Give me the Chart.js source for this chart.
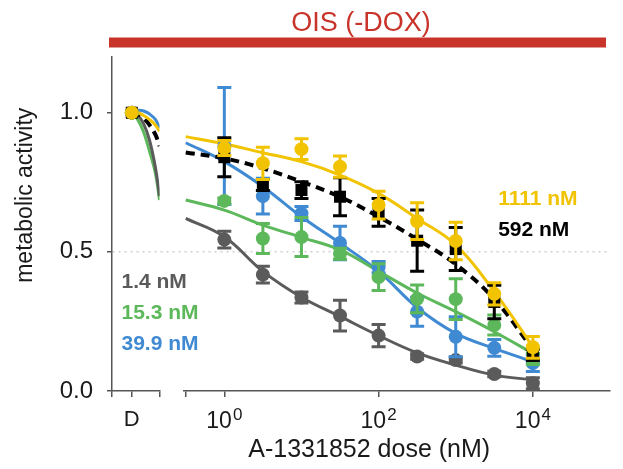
<!DOCTYPE html>
<html>
<head>
<meta charset="utf-8">
<script src="https://cdn.jsdelivr.net/npm/chart.js@4.4.1/dist/chart.umd.min.js"></script>
<style>
  html, body { margin: 0; padding: 0; background: #fff; }
</style>
</head>
<body>
<canvas id="myChart" width="623" height="469"></canvas>
<script>
// doses (nM) of the measured points and of the fitted curves
const doses = [1, 3.16, 10, 31.6, 100, 316, 1000, 3162, 10000];
const curveDoses = [0.316, 1, 3.16, 10, 31.6, 100, 316, 1000, 3162, 10000];
// position along the short "D" (DMSO) segment
const nearD = [0, 0.3, 0.6, 0.9, 1.2, 1.4];
const dmsoValue = 1.0;

// measured means and error bars
const yellowMean = [0.873, 0.818, 0.869, 0.806, 0.668, 0.61, 0.539, 0.349, 0.157];
const yellowErr = [0.027, 0.058, 0.037, 0.038, 0.05, 0.066, 0.067, 0.04, 0.039];
const blackMean = [0.84, 0.74, 0.722, 0.698, 0.642, 0.54, 0.51, 0.32, 0.13];
const blackErr = [0.07, 0.02, 0.03, 0.068, 0.05, 0.11, 0.077, 0.06, 0.02];
const greenMean = [0.683, 0.548, 0.553, 0.493, 0.409, 0.331, 0.33, 0.237, 0.115];
const greenErr = [0.01, 0.054, 0.07, 0.02, 0.048, 0.05, 0.073, 0.036, 0.02];
const blueMean = [0.88, 0.70, 0.638, 0.532, 0.445, 0.285, 0.195, 0.155, 0.1];
const blueErr = [0.21, 0.064, 0.025, 0.06, 0.02, 0.052, 0.072, 0.03, 0.03];
const grayMean = [0.544, 0.418, 0.336, 0.271, 0.199, 0.124, 0.111, 0.061, 0.028];
const grayErr = [0.03, 0.03, 0.02, 0.055, 0.04, 0.01, 0.01, 0.01, 0.02];

// fitted curves
const yellowFit = [0.914, 0.888, 0.856, 0.824, 0.776, 0.71, 0.62, 0.525, 0.357, 0.159];
const blackFit = [0.857, 0.836, 0.80, 0.752, 0.698, 0.626, 0.545, 0.455, 0.33, 0.15];
const greenFit = [0.686, 0.65, 0.596, 0.552, 0.507, 0.43, 0.352, 0.285, 0.213, 0.135];
const blueFit = [0.892, 0.824, 0.734, 0.626, 0.531, 0.43, 0.30, 0.207, 0.153, 0.105];
const grayFit = [0.62, 0.554, 0.43, 0.337, 0.268, 0.199, 0.137, 0.093, 0.057, 0.04];

// curve pieces next to D
const yellowNearD = [1.0, 1.0, 0.99, 0.975, 0.955, 0.933];
const blackNearD = [1.0, 0.995, 0.98, 0.955, 0.92, 0.88];
const greenNearD = [1.0, 0.975, 0.93, 0.86, 0.78, 0.686];
const blueNearD = [1.0, 1.008, 1.006, 0.995, 0.975, 0.945];
const grayNearD = [1.0, 0.99, 0.96, 0.9, 0.8, 0.70];

const seriesLabels = ['1111 nM', '592 nM', '15.3 nM', '39.9 nM', '1.4 nM'];
const logTicks = [1, 100, 10000];
const yTicks = [0, 0.5, 1.0];

const YELLOW = '#f2c300';
const BLACK = '#000000';
const GREEN = '#5cb85a';
const BLUE = '#3f8ad2';
const GRAY = '#5b5b5b';
const RED = '#c8342a';
const AXIS = '#555555';
const FONT = "'Liberation Sans', Arial, Helvetica, sans-serif";
const BOTTOM_H = 78;

Chart.defaults.font.family = FONT;
Chart.defaults.color = '#1a1a1a';

const pts = (xs, ys) => xs.map((x, i) => ({x: x, y: ys[i]}));

function pointSet(label, color, means, errs, style, order) {
    return {
        label: label,
        data: pts(doses, means),
        errors: errs,
        xAxisID: 'x',
        yAxisID: 'y',
        backgroundColor: color,
        borderColor: color,
        borderWidth: 0,
        pointStyle: style,
        pointRadius: style === 'rect' ? 8.5 : 7,
        showLine: false,
        order: order
    };
}

function dmsoSet(color, style, order) {
    return {
        data: [{x: 0, y: dmsoValue}],
        xAxisID: 'xd',
        yAxisID: 'y',
        backgroundColor: color,
        borderWidth: 0,
        pointStyle: style,
        pointRadius: style === 'rect' ? 8.5 : 7,
        showLine: false,
        order: order
    };
}

function curveSet(color, xs, ys, axis, order, dashed) {
    return {
        data: pts(xs, ys),
        xAxisID: axis,
        yAxisID: 'y',
        showLine: true,
        borderColor: color,
        borderWidth: dashed ? 4 : 3,
        borderDash: dashed ? [9, 6] : [],
        pointRadius: 0,
        tension: 0.4,
        order: order
    };
}

// error bars drawn through the y scale
const errorBarPlugin = {
    id: 'errorBars',
    afterDatasetDraw(chart, args) {
        const ds = chart.data.datasets[args.index];
        if (!ds.errors) return;
        const yScale = chart.scales.y;
        const ctx = chart.ctx;
        ctx.save();
        ctx.strokeStyle = ds.backgroundColor;
        ctx.lineWidth = 3;
        args.meta.data.forEach((pt, i) => {
            const v = ds.data[i].y;
            const e = ds.errors[i];
            const top = yScale.getPixelForValue(v + e);
            const bot = yScale.getPixelForValue(v - e);
            ctx.beginPath();
            ctx.moveTo(pt.x, top);
            ctx.lineTo(pt.x, bot);
            ctx.moveTo(pt.x - 7, top);
            ctx.lineTo(pt.x + 7, top);
            ctx.moveTo(pt.x - 7, bot);
            ctx.lineTo(pt.x + 7, bot);
            ctx.stroke();
        });
        ctx.restore();
    }
};

// red condition bar, 10^n tick labels and the IC50 labels
const decorPlugin = {
    id: 'decor',
    beforeDraw(chart) {
        const {ctx, chartArea} = chart;
        ctx.save();
        ctx.fillStyle = RED;
        ctx.fillRect(chartArea.left - 3, chartArea.top - 19.5, chartArea.width - 1, 10);
        ctx.restore();
    },
    afterDraw(chart) {
        const {ctx, chartArea} = chart;
        const xs = chart.scales.x;
        const xd = chart.scales.xd;
        const ys = chart.scales.y;
        ctx.save();
        ctx.fillStyle = '#1a1a1a';
        ctx.textBaseline = 'alphabetic';
        ctx.textAlign = 'left';
        logTicks.forEach(v => {
            const px = xs.getPixelForValue(v);
            const exp = String(Math.round(Math.log10(v)));
            ctx.font = '23px ' + FONT;
            const w1 = ctx.measureText('10').width;
            ctx.font = '17px ' + FONT;
            const w2 = ctx.measureText(exp).width;
            const start = px - (w1 + w2 + 1) / 2;
            ctx.font = '23px ' + FONT;
            ctx.fillText('10', start, chartArea.bottom + 37);
            ctx.font = '17px ' + FONT;
            ctx.fillText(exp, start + w1 + 1, chartArea.bottom + 28.5);
        });

        ctx.font = 'bold 21px ' + FONT;
        ctx.textBaseline = 'middle';
        const spots = [
            [seriesLabels[0], YELLOW, xs.getPixelForValue(3548), ys.getPixelForValue(0.69)],
            [seriesLabels[1], BLACK, xs.getPixelForValue(3548), ys.getPixelForValue(0.578)],
            [seriesLabels[4], GRAY, xd.getPixelForValue(-0.52), ys.getPixelForValue(0.392)],
            [seriesLabels[2], GREEN, xd.getPixelForValue(-0.52), ys.getPixelForValue(0.28)],
            [seriesLabels[3], BLUE, xd.getPixelForValue(-0.52), ys.getPixelForValue(0.167)]
        ];
        spots.forEach(([text, color, x, y]) => {
            ctx.fillStyle = color;
            ctx.fillText(text, x, y);
        });
        ctx.restore();
    }
};

const datasets = [
    pointSet(seriesLabels[0], YELLOW, yellowMean, yellowErr, 'circle', 0),
    pointSet(seriesLabels[1], BLACK, blackMean, blackErr, 'rect', 1),
    pointSet(seriesLabels[2], GREEN, greenMean, greenErr, 'circle', 2),
    pointSet(seriesLabels[3], BLUE, blueMean, blueErr, 'circle', 3),
    pointSet(seriesLabels[4], GRAY, grayMean, grayErr, 'circle', 4),
    dmsoSet(YELLOW, 'circle', 0),
    dmsoSet(BLACK, 'rect', 1),
    dmsoSet(GREEN, 'circle', 2),
    dmsoSet(BLUE, 'circle', 3),
    dmsoSet(GRAY, 'circle', 4),
    curveSet(YELLOW, curveDoses, yellowFit, 'x', 5, false),
    curveSet(BLACK, curveDoses, blackFit, 'x', 6, true),
    curveSet(GREEN, curveDoses, greenFit, 'x', 7, false),
    curveSet(BLUE, curveDoses, blueFit, 'x', 8, false),
    curveSet(GRAY, curveDoses, grayFit, 'x', 9, false),
    curveSet(YELLOW, nearD, yellowNearD, 'xd', 10, false),
    curveSet(BLACK, nearD, blackNearD, 'xd', 11, true),
    curveSet(BLUE, nearD, blueNearD, 'xd', 12, false),
    curveSet(GRAY, nearD, grayNearD, 'xd', 13, false),
    curveSet(GREEN, nearD, greenNearD, 'xd', 14, false)
];

const fixHeight = s => { s.height = BOTTOM_H; };

const ctx = document.getElementById('myChart').getContext('2d');
const myChart = new Chart(ctx, {
    type: 'scatter',
    data: {datasets: datasets},
    plugins: [errorBarPlugin, decorPlugin],
    options: {
        responsive: false,
        animation: false,
        events: [],
        layout: {padding: {top: 0, right: 13, bottom: 0, left: 0}},
        plugins: {
            legend: {display: false},
            tooltip: {enabled: false},
            title: {
                display: true,
                text: 'OIS (-DOX)',
                color: RED,
                fullSize: false,
                font: {size: 27, weight: 'normal'},
                padding: {top: 7, bottom: 17.6}
            }
        },
        scales: {
            xd: {
                type: 'linear',
                position: 'bottom',
                stack: 'dose',
                stackWeight: 47.5,
                min: -1,
                max: 1.4,
                afterFit: fixHeight,
                afterBuildTicks: s => { s.ticks = [{value: -1}, {value: 0}, {value: 1.4}]; },
                ticks: {
                    callback: v => (v === 0 ? 'D' : ''),
                    font: {size: 22},
                    color: '#1a1a1a',
                    padding: 10,
                    maxRotation: 0,
                    autoSkip: false
                },
                grid: {display: true, drawOnChartArea: false, tickLength: 6, color: AXIS, lineWidth: 1.5},
                border: {display: true, color: AXIS, width: 1.5}
            },
            xgap: {
                type: 'linear',
                position: 'bottom',
                stack: 'dose',
                stackWeight: 24.5,
                afterFit: fixHeight,
                ticks: {display: false},
                grid: {display: false, drawTicks: false},
                border: {display: false}
            },
            x: {
                type: 'logarithmic',
                position: 'bottom',
                stack: 'dose',
                stackWeight: 426,
                min: Math.pow(10, -0.5),
                max: 1e5,
                afterFit: fixHeight,
                afterBuildTicks: s => {
                    s.ticks = [Math.pow(10, -0.5)].concat(logTicks).map(v => ({value: v}));
                },
                ticks: {display: false},
                grid: {display: true, drawOnChartArea: false, tickLength: 6, color: AXIS, lineWidth: 1.5},
                border: {display: true, color: AXIS, width: 1.5},
                title: {
                    display: true,
                    text: 'A-1331852 dose (nM)' + ' '.repeat(8),
                    color: '#1a1a1a',
                    font: {size: 25},
                    padding: {top: 38, bottom: 4}
                }
            },
            y: {
                type: 'linear',
                position: 'left',
                min: 0,
                max: 1.2,
                afterFit: s => { s.width = 112; },
                afterBuildTicks: s => { s.ticks = yTicks.map(v => ({value: v})); },
                ticks: {
                    callback: v => v.toFixed(1),
                    font: {size: 24},
                    color: '#1a1a1a',
                    padding: 14
                },
                grid: {
                    drawOnChartArea: true,
                    tickLength: 5,
                    lineWidth: 1.5,
                    color: c => (c.tick && c.tick.value === 0.5 ? '#cfcfcf' : 'rgba(0,0,0,0)'),
                    tickColor: AXIS
                },
                border: {display: true, color: AXIS, width: 1.5, dash: [2, 4]},
                title: {
                    display: true,
                    text: ' '.repeat(9) + 'metabolic activity',
                    color: '#1a1a1a',
                    font: {size: 23},
                    padding: {top: 12, bottom: 0}
                }
            }
        }
    }
});
</script>
</body>
</html>
